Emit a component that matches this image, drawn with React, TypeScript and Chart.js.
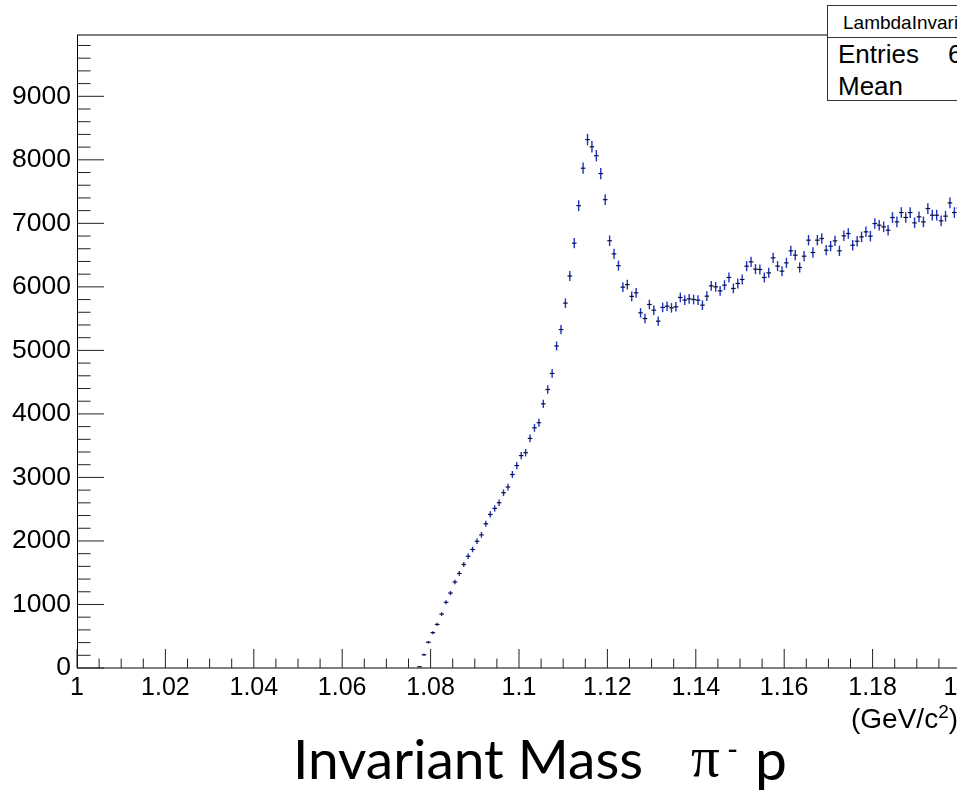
import React, { useEffect, useRef } from 'react';
import { Chart, registerables } from 'chart.js';

Chart.register(...registerables);

// Histogram definition (GeV/c^2)
const xMin = 1.0;
const xMax = 1.2;
const binWidth = 0.001;
const firstFilledBinLow = 1.077;

// Bin contents for bins 1.077 ... 1.200
const counts = [
  20, 208, 405, 556, 686, 849, 1034, 1180, 1354, 1489,
  1630, 1759, 1866, 1995, 2096, 2270, 2417, 2512, 2602, 2759,
  2849, 3046, 3187, 3344, 3389, 3614, 3782, 3861, 4159, 4384,
  4637, 5069, 5328, 5744, 6171, 6688, 7278, 7868, 8318, 8205,
  8065, 7784, 7373, 6727, 6519, 6334, 5995, 6035, 5850, 5906,
  5591, 5502, 5723, 5633, 5460, 5676, 5696, 5670, 5686, 5833,
  5791, 5812, 5801, 5791, 5712, 5854, 6016, 6000, 5937, 6027,
  6148, 5975, 6053, 6116, 6326, 6394, 6279, 6274, 6148, 6221,
  6457, 6326, 6247, 6378, 6567, 6499, 6305, 6483, 6735, 6541,
  6735, 6761, 6577, 6641, 6724, 6567, 6803, 6840, 6656, 6719,
  6787, 6866, 6798, 6997, 6971, 6945, 6892, 7092, 7023, 7170,
  7092, 7170, 7008, 7102, 7023, 7233, 7128, 7128, 7039, 7113,
  7322, 7170, 7240,
];

const yMin = 0;
const yMax = 9965;
const yMajorStep = 1000;
const yMinorStep = 200;
const xMajorStep = 0.02;
const xMinorStep = 0.005;

const statsTitle = 'LambdaInvariantMass';
const statsRows = ['Entries', 'Mean'];
const entriesFirstDigit = '6';
const xAxisTitle = '(GeV/c';
const pageTitle = 'Invariant Mass';

const FONT = '"Liberation Sans", Arial, Helvetica, sans-serif';

const points = counts.map((c, i) => ({
  x: firstFilledBinLow + (i + 0.5) * binWidth,
  y: c,
}));

// tick positions of the axes
const yTickValues: number[] = [];
for (let v = yMin; v <= yMax; v += yMinorStep) yTickValues.push(v);
const xTickValues: number[] = [];
for (let k = 0; xMin + k * xMinorStep <= xMax + 1e-9; k++) {
  xTickValues.push(Math.round((xMin + k * xMinorStep) * 1000) / 1000);
}

const isXMajor = (v: number) => Math.round((v - xMin) * 1000) % Math.round(xMajorStep * 1000) === 0;

const rootAxesPlugin = {
  id: 'rootAxes',
  beforeDatasetsDraw(chart: any) {
    const ctx = chart.ctx;
    const xs = chart.scales.x;
    const ys = chart.scales.y;
    const { left, right, top, bottom } = chart.chartArea;
    ctx.save();
    ctx.lineWidth = 1;
    // frame top/right
    ctx.strokeStyle = '#000';
    ctx.beginPath();
    ctx.moveTo(left, top);
    ctx.lineTo(right, top);
    ctx.lineTo(right, bottom);
    ctx.stroke();
    // axes
    ctx.beginPath();
    ctx.moveTo(left + 0.5, top);
    ctx.lineTo(left + 0.5, bottom);
    ctx.stroke();
    ctx.beginPath();
    ctx.moveTo(left, bottom);
    ctx.lineTo(right, bottom);
    ctx.stroke();
    // ticks (inward)
    ctx.strokeStyle = '#222';
    yTickValues.forEach((v) => {
      const y = ys.getPixelForValue(v);
      const len = v % yMajorStep === 0 ? 27 : 13.5;
      ctx.beginPath();
      ctx.moveTo(left, y);
      ctx.lineTo(left + len, y);
      ctx.stroke();
    });
    xTickValues.forEach((v) => {
      const x = xs.getPixelForValue(v);
      const len = isXMajor(v) ? 19 : 9.5;
      ctx.beginPath();
      ctx.moveTo(x, bottom);
      ctx.lineTo(x, bottom - len);
      ctx.stroke();
    });
    // vertical error bars (Poisson)
    ctx.beginPath();
    ctx.rect(left, top, right - left, bottom - top);
    ctx.clip();
    ctx.strokeStyle = '#1a33c4';
    ctx.lineWidth = 1.4;
    const data = chart.data.datasets[0].data;
    data.forEach((p: any) => {
      const e = Math.sqrt(p.y);
      const x = xs.getPixelForValue(p.x);
      const y1 = ys.getPixelForValue(p.y + e);
      const y2 = ys.getPixelForValue(Math.max(0, p.y - e));
      ctx.beginPath();
      ctx.moveTo(x, y1);
      ctx.lineTo(x, y2);
      ctx.stroke();
    });
    ctx.restore();
  },
};

export default function App() {
  const canvasRef = useRef<HTMLCanvasElement | null>(null);

  useEffect(() => {
    if (!canvasRef.current) return;
    const chart = new Chart(canvasRef.current, {
      type: 'scatter',
      data: {
        datasets: [
          {
            data: points,
            showLine: false,
            pointStyle: 'line',
            pointRadius: 2.3,
            pointHoverRadius: 2.3,
            pointBorderWidth: 1.2,
            borderColor: '#101030',
            backgroundColor: '#101030',
          },
        ],
      },
      options: {
        responsive: false,
        animation: false,
        devicePixelRatio: 1,
        layout: { padding: { top: 35, right: 29, left: 0, bottom: 0 } },
        plugins: {
          legend: { display: false },
          tooltip: { enabled: false },
          title: { display: false },
        },
        scales: {
          x: {
            type: 'linear',
            min: xMin,
            max: xMax,
            afterBuildTicks: (s: any) => {
              s.ticks = xTickValues.map((v) => ({ value: v }));
            },
            afterFit: (s: any) => {
              s.height = 62;
            },
            grid: { display: false, drawTicks: false },
            border: { display: false },
            ticks: {
              autoSkip: false,
              maxRotation: 0,
              minRotation: 0,
              padding: 5,
              color: '#000',
              font: { family: FONT, size: 25 },
              callback: (value: any) => {
                const v = Number(value);
                if (!isXMajor(v)) return '';
                return String(Math.round(v * 1000) / 1000);
              },
            },
          },
          y: {
            type: 'linear',
            min: yMin,
            max: yMax,
            afterBuildTicks: (s: any) => {
              s.ticks = yTickValues.map((v) => ({ value: v }));
            },
            afterFit: (s: any) => {
              s.width = 77;
            },
            grid: { display: false, drawTicks: false },
            border: { display: false },
            ticks: {
              autoSkip: false,
              padding: 6,
              color: '#000',
              font: { family: FONT, size: 26.5 },
              callback: (value: any) => {
                const v = Math.round(Number(value));
                return v % yMajorStep === 0 ? String(v) : '';
              },
            },
          },
        },
      },
      plugins: [rootAxesPlugin],
    } as any);
    return () => chart.destroy();
  }, []);

  return (
    <div
      style={{
        position: 'absolute',
        left: 0,
        top: 0,
        width: 957,
        height: 801,
        overflow: 'hidden',
        background: '#fff',
      }}
    >
      <canvas
        ref={canvasRef}
        width={990}
        height={730}
        style={{ position: 'absolute', left: 0, top: 0, width: 990, height: 730 }}
      />
      {/* stats box */}
      <div
        style={{
          position: 'absolute',
          left: 827,
          top: 5,
          width: 200,
          height: 96,
          boxSizing: 'border-box',
          border: '1px solid #333',
          background: '#fff',
          fontFamily: FONT,
          color: '#000',
        }}
      >
        <div
          style={{
            position: 'absolute',
            left: 0,
            right: 0,
            top: 0,
            height: 31,
            borderBottom: '1px solid #333',
          }}
        />
        <div
          style={{
            position: 'absolute',
            left: 15,
            top: 7,
            fontSize: 19,
            lineHeight: '19px',
            whiteSpace: 'nowrap',
          }}
        >
          {statsTitle}
        </div>
        <div style={{ position: 'absolute', left: 10, top: 35, fontSize: 26, lineHeight: '26px', whiteSpace: 'nowrap' }}>
          {statsRows[0]}
        </div>
        <div style={{ position: 'absolute', left: 120, top: 35, fontSize: 26, lineHeight: '26px', whiteSpace: 'nowrap' }}>
          {entriesFirstDigit}
        </div>
        <div style={{ position: 'absolute', left: 10, top: 67, fontSize: 26, lineHeight: '26px', whiteSpace: 'nowrap' }}>
          {statsRows[1]}
        </div>
      </div>
      {/* x axis title */}
      <div
        style={{
          position: 'absolute',
          left: 851,
          top: 705,
          fontFamily: FONT,
          fontSize: 28,
          lineHeight: '28px',
          whiteSpace: 'nowrap',
          color: '#000',
        }}
      >
        {xAxisTitle}
        <sup style={{ fontSize: 19, lineHeight: 0, verticalAlign: 'super' }}>2</sup>)
      </div>
      {/* slide title */}
      <div
        style={{
          position: 'absolute',
          left: 293,
          top: 731,
          fontFamily: 'Lato, "Open Sans", sans-serif',
          fontSize: 55,
          lineHeight: '55px',
          whiteSpace: 'nowrap',
          color: '#000',
        }}
      >
        {pageTitle}
      </div>
      <div
        style={{
          position: 'absolute',
          left: 691,
          top: 729,
          fontFamily: '"Liberation Serif", "DejaVu Serif", serif',
          fontSize: 57,
          lineHeight: '56px',
          whiteSpace: 'nowrap',
          color: '#000',
        }}
      >
        π
      </div>
      <div
        style={{
          position: 'absolute',
          left: 727,
          top: 733,
          fontFamily: 'Lato, sans-serif',
          fontSize: 30,
          lineHeight: '30px',
          whiteSpace: 'nowrap',
          color: '#000',
        }}
      >
        -
      </div>
      <div
        style={{
          position: 'absolute',
          left: 755,
          top: 731,
          fontFamily: 'Lato, "Open Sans", sans-serif',
          fontSize: 57,
          lineHeight: '55px',
          whiteSpace: 'nowrap',
          color: '#000',
        }}
      >
        p
      </div>
    </div>
  );
}
